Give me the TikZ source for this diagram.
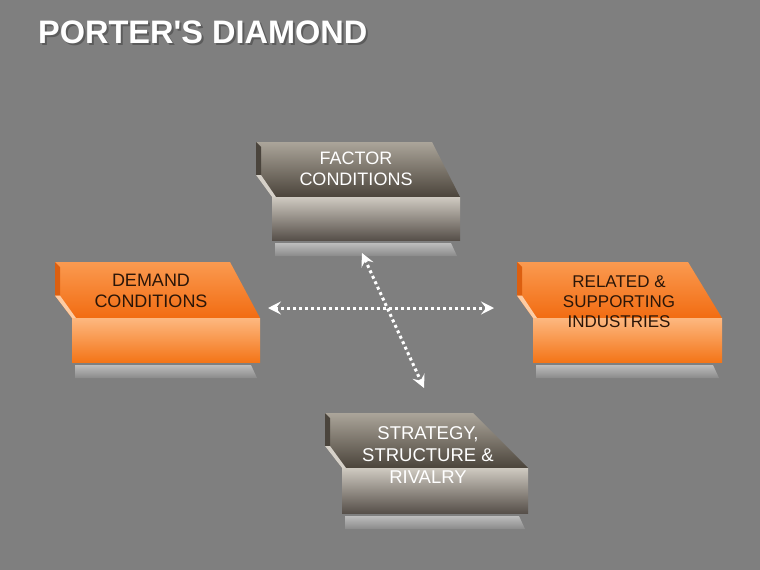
\documentclass[tikz,border=0pt]{standalone}
\usepackage{fontspec}
\setmainfont{Liberation Sans}
\newfontfamily\titlefont{Liberation Sans}
\usetikzlibrary{arrows.meta}
\definecolor{bg}{HTML}{7F7F7F}
\definecolor{otext}{HTML}{2B1608}
\tikzset{
  gtop/.style={top color=gtA, bottom color=gtB},
  gfront/.style={top color=gfA, middle color=gfM, bottom color=gfB},
  gside/.style={fill=gsL},
  gstrip/.style={fill=gsD},
  otop/.style={top color=otA, bottom color=otB},
  ofront/.style={top color=ofA, middle color=ofM, bottom color=ofB},
  oside/.style={fill=osL},
  ostrip/.style={fill=osD},
  shadowbar/.style={top color=shA, bottom color=shB},
  boxtext/.style={align=center, font=\fontsize{18}{21.5}\selectfont, inner sep=0pt},
  titletext/.style={anchor=base west, inner sep=0pt, font=\fontsize{32.5}{36}\selectfont\titlefont\bfseries},
  dotarrow/.style={draw=white, line width=3pt, dash pattern=on 3pt off 3pt,
    {Stealth[length=13pt,width=13pt,inset=5pt]}-{Stealth[length=13pt,width=13pt,inset=5pt]}}
}
\definecolor{gtA}{HTML}{ABA59A}
\definecolor{gtB}{HTML}{4B443B}
\definecolor{gfA}{HTML}{CFCAC1}
\definecolor{gfM}{HTML}{8E887D}
\definecolor{gfB}{HTML}{57504A}
\definecolor{gsL}{HTML}{D6D1C9}
\definecolor{gsD}{HTML}{4A443C}
\definecolor{otA}{HTML}{FA9A50}
\definecolor{otB}{HTML}{F26C12}
\definecolor{ofA}{HTML}{FDB880}
\definecolor{ofM}{HTML}{F88A34}
\definecolor{ofB}{HTML}{F47518}
\definecolor{osL}{HTML}{FCCCA4}
\definecolor{osD}{HTML}{DC5F10}
\definecolor{shA}{HTML}{BDBDBD}
\definecolor{shB}{HTML}{8A8A8A}
% #1 x0, #2 y0, #3 top-right x, #4 right x, #5 face bottom y, #6 front bottom y, #7 front left x, #8 scheme prefix
\newcommand\pbox[8]{%
  \pgfmathsetmacro\notchy{#2+0.6*(#5-#2)}%
  \path[shadowbar] ({#7+3},{#6+3}) -- ({#4-9},{#6+3}) -- ({#4-3},{#6+16}) -- ({#7+3},{#6+16}) -- cycle;
  \path[#8top] (#1,#2) -- (#3,#2) -- (#4,#5) -- (#7,#5) -- (#1,\notchy) -- cycle;
  \path[#8strip] (#1,#2) -- ({#1+5},{#2+5}) -- ({#1+5},\notchy) -- (#1,\notchy) -- cycle;
  \path[#8side] (#1,\notchy) -- ({#1+5},\notchy) -- ({#7+4},#5) -- (#7,#5) -- cycle;
  \path[#8front] (#7,#5) rectangle (#4,#6);
}
\begin{document}
\begin{tikzpicture}[x=1pt,y=-1pt]
\useasboundingbox (0,0) rectangle (760,570);
\fill[bg] (0,0) rectangle (760,570);
% title with drop shadow
\node[titletext, text=black!75, opacity=0.55] (titleshadow) at (40,45) {PORTER'S DIAMOND};
\node[titletext, text=white] (title) at (38,43) {PORTER'S DIAMOND};
% boxes
\pbox{256}{142}{432}{460}{197}{240}{272}{g}
\pbox{55}{262}{230}{260}{318}{362}{72}{o}
\pbox{517}{262}{688}{722}{318}{362}{533}{o}
\pbox{325}{413}{473}{528}{468}{513}{342}{g}
% texts
\node[boxtext, text=white] (factor) at (356,169) {FACTOR\\CONDITIONS};
\node[boxtext, text=otext] (demand) at (151,291) {DEMAND\\CONDITIONS};
\node[boxtext, text=otext, font=\fontsize{17}{20}\selectfont] (related) at (619,302) {RELATED \&\\SUPPORTING\\INDUSTRIES};
\node[boxtext, text=white, font=\fontsize{18.5}{22}\selectfont] (strategy) at (428,455) {STRATEGY,\\STRUCTURE \&\\RIVALRY};
% arrows
\coordinate (hL) at (268,308);
\coordinate (hR) at (494,308);
\coordinate (dT) at (362,253);
\coordinate (dB) at (424,388);
\draw[dotarrow] (hL) -- (hR);
\draw[dotarrow] (dT) -- (dB);
\end{tikzpicture}
\end{document}
